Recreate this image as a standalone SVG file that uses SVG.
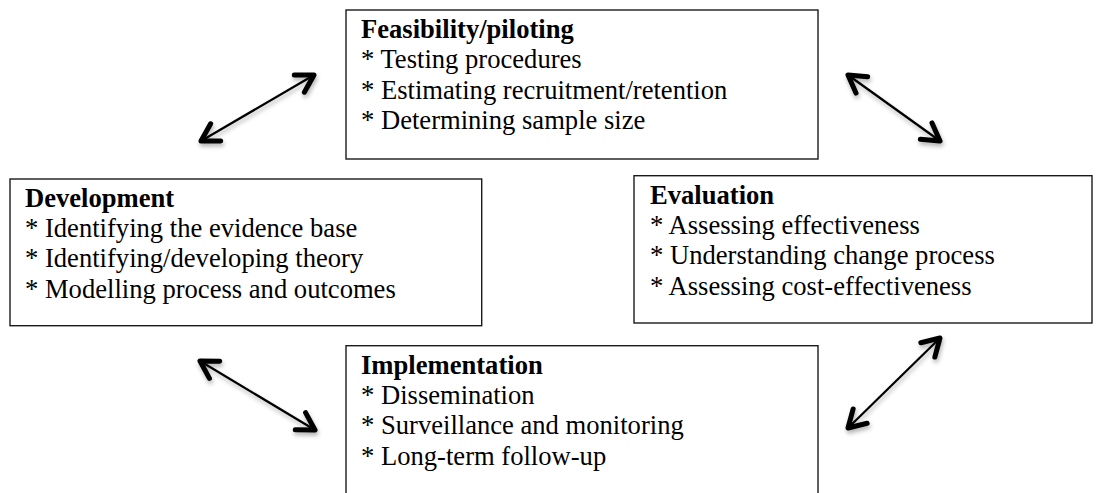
<svg xmlns="http://www.w3.org/2000/svg" width="1096" height="493" viewBox="0 0 1096 493">
<defs>
<style>
.box{fill:#fff;stroke:#1a1a1a;stroke-width:1.4}
.t{font-family:"Liberation Serif","Times New Roman",serif;font-size:26.6px;fill:#000}
.b{font-weight:bold}
.conn{stroke:#000;stroke-width:2.2;fill:none;marker-start:url(#chev);marker-end:url(#chev);filter:url(#sh)}
</style>
<marker id="chev" markerUnits="userSpaceOnUse" viewBox="-24 -14 30 28" refX="0" refY="0" markerWidth="30" markerHeight="28" orient="auto-start-reverse">
<path d="M-17,-10 L0,0 L-17,10" fill="none" stroke="#000" stroke-width="5" stroke-linecap="round" stroke-linejoin="round"/>
</marker>
<filter id="sh" x="-30%" y="-30%" width="160%" height="160%">
<feDropShadow dx="1" dy="3" stdDeviation="2" flood-color="#000" flood-opacity="0.3"/>
</filter>
</defs>
<rect width="1096" height="493" fill="#fff"/>
<g id="feasibility">
<rect class="box" x="346" y="10" width="472" height="149"/>
<text class="t b" x="361" y="38">Feasibility/piloting</text>
<text class="t" x="361" y="68.3">* Testing procedures</text>
<text class="t" x="361" y="98.6">* Estimating recruitment/retention</text>
<text class="t" x="361" y="129">* Determining sample size</text>
</g>
<g id="development">
<rect class="box" x="10" y="179" width="471.7" height="146.7"/>
<text class="t b" x="25" y="206.5">Development</text>
<text class="t" x="25" y="237">* Identifying the evidence base</text>
<text class="t" x="25" y="267.3">* Identifying/developing theory</text>
<text class="t" x="25" y="297.6">* Modelling process and outcomes</text>
</g>
<g id="evaluation">
<rect class="box" x="634" y="175.7" width="458" height="147.3"/>
<text class="t b" x="650" y="203.5">Evaluation</text>
<text class="t" x="650" y="234">* Assessing effectiveness</text>
<text class="t" x="650" y="264.3">* Understanding change process</text>
<text class="t" x="650" y="294.6">* Assessing cost-effectiveness</text>
</g>
<g id="implementation">
<rect class="box" x="346" y="345.7" width="472" height="160"/>
<text class="t b" x="361" y="373.5">Implementation</text>
<text class="t" x="361" y="404">* Dissemination</text>
<text class="t" x="361" y="434.3">* Surveillance and monitoring</text>
<text class="t" x="361" y="464.6">* Long-term follow-up</text>
</g>
<g id="connectors">
<line class="conn" x1="201" y1="141" x2="314" y2="75"/>
<line class="conn" x1="848" y1="75" x2="940" y2="141"/>
<line class="conn" x1="200" y1="361" x2="315" y2="430"/>
<line class="conn" x1="940" y1="338" x2="848" y2="428"/>
</g>
</svg>
